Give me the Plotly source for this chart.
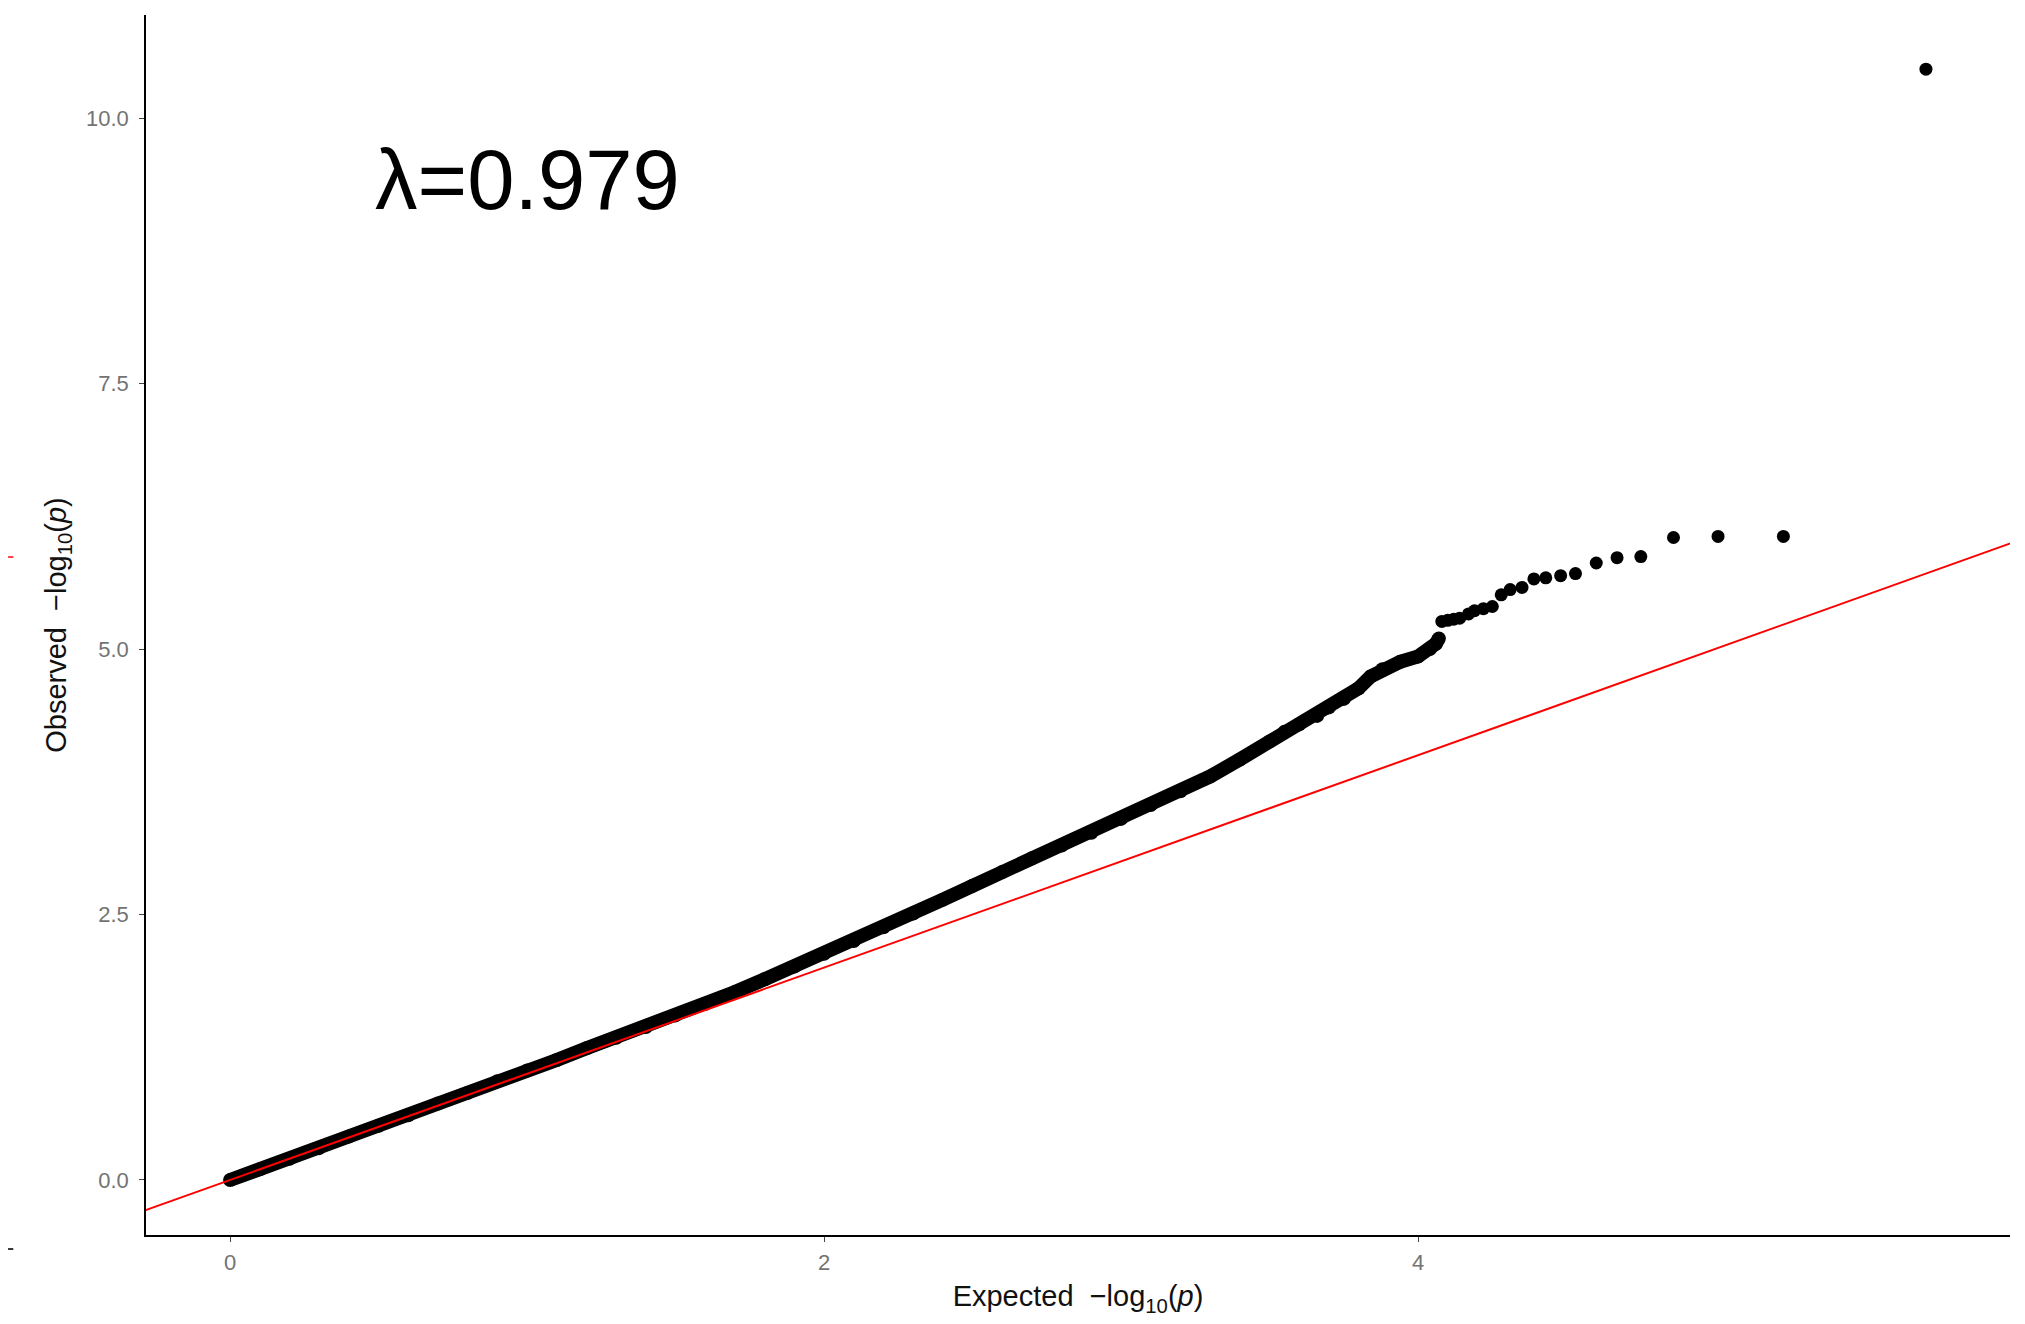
import plotly.graph_objects as go

# ---- data ----
# dense band of points (expected, observed  -log10 p)
expected_band = [0.00, 0.10, 0.20, 0.30, 0.40, 0.50, 0.60, 0.70, 0.80, 0.90,
                 1.00, 1.10, 1.20, 1.30, 1.40, 1.50, 1.60, 1.70, 1.80, 1.90,
                 2.00, 2.10, 2.20, 2.30, 2.40, 2.50, 2.60, 2.70, 2.80, 2.90,
                 3.00, 3.10, 3.20, 3.30, 3.40, 3.50, 3.55, 3.60, 3.66, 3.70,
                 3.75, 3.80, 3.84, 3.88, 3.94, 4.00, 4.04, 4.06, 4.07]
observed_band = [0.00, 0.10, 0.20, 0.30, 0.41, 0.51, 0.61, 0.72, 0.82, 0.93,
                 1.03, 1.13, 1.24, 1.34, 1.44, 1.55, 1.66, 1.77, 1.89, 2.01,
                 2.13, 2.25, 2.38, 2.51, 2.64, 2.77, 2.90, 3.03, 3.15, 3.27,
                 3.40, 3.53, 3.66, 3.80, 3.96, 4.13, 4.22, 4.29, 4.37, 4.45,
                 4.53, 4.63, 4.74, 4.81, 4.88, 4.93, 5.00, 5.05, 5.10]

# sparse upper tail points
expected_tail = [4.08, 4.10, 4.12, 4.14, 4.17, 4.19, 4.22, 4.25, 4.28, 4.31,
                 4.35, 4.39, 4.43, 4.48, 4.53, 4.60, 4.67, 4.75, 4.86, 5.01,
                 5.23, 5.71]
observed_tail = [5.26, 5.27, 5.28, 5.29, 5.33, 5.36, 5.38, 5.40, 5.51, 5.56,
                 5.58, 5.66, 5.67, 5.69, 5.71, 5.81, 5.86, 5.87, 6.05, 6.06,
                 6.06, 10.46]

# reference line y = x
ref_line = [-1.0, 7.0]

x_ticks = [0, 2, 4]
y_ticks = [0.0, 2.5, 5.0, 7.5, 10.0]
lambda_label = "λ=0.979"

FONT = "Liberation Sans, Arial, Helvetica, sans-serif"

fig = go.Figure()
fig.add_trace(go.Scatter(
    x=expected_band, y=observed_band, mode="lines+markers",
    line=dict(color="black", width=14),
    marker=dict(color="black", size=14, line=dict(width=0)),
    showlegend=False, hoverinfo="x+y"))
fig.add_trace(go.Scatter(
    x=expected_tail, y=observed_tail, mode="markers",
    marker=dict(color="black", size=13, line=dict(width=0)),
    showlegend=False, hoverinfo="x+y"))
fig.add_trace(go.Scatter(
    x=ref_line, y=ref_line, mode="lines",
    line=dict(color="#FF0000", width=2),
    showlegend=False, hoverinfo="skip"))

fig.add_annotation(
    x=1.0, y=9.42, xref="x", yref="y", text=lambda_label, showarrow=False,
    xanchor="center", yanchor="middle",
    font=dict(family=FONT, size=85, color="black"))

# small stray marks at the left edge of the reference image
fig.add_shape(type="line", xref="paper", yref="paper",
              x0=-0.0740, x1=-0.0712, y0=0.5557, y1=0.5557,
              line=dict(color="#FF4040", width=2))
fig.add_shape(type="line", xref="paper", yref="paper",
              x0=-0.0740, x1=-0.0712, y0=-0.0115, y1=-0.0115,
              line=dict(color="#333333", width=2))

fig.update_layout(
    width=2017, height=1316, autosize=False,
    margin=dict(l=138, r=15, t=7, b=89),
    paper_bgcolor="white", plot_bgcolor="white",
    font=dict(family=FONT, color="black"),
    showlegend=False,
)
fig.update_xaxes(
    range=[-0.283, 5.993], tickmode="array", tickvals=x_ticks,
    ticks="outside", ticklen=5, tickwidth=1, tickcolor="#444444",
    showline=True, linecolor="black", linewidth=1.5, mirror=False,
    showgrid=False, zeroline=False, ticklabelstandoff=2,
    tickfont=dict(family=FONT, size=22, color="#737373"),
    title=dict(text="Expected  −log<sub>10</sub>(<i>p</i>)",
               font=dict(family=FONT, size=29, color="#111111"), standoff=12),
    automargin=False)
fig.update_yaxes(
    range=[-0.518, 10.97], tickmode="array", tickvals=y_ticks, tickformat=".1f",
    ticks="outside", ticklen=5, tickwidth=1, tickcolor="#444444",
    showline=True, linecolor="black", linewidth=1.5, mirror=False,
    showgrid=False, zeroline=False, ticklabelstandoff=6,
    tickfont=dict(family=FONT, size=22, color="#737373"),
    title=dict(text="Observed  −log<sub>10</sub>(<i>p</i>)",
               font=dict(family=FONT, size=29, color="#111111"), standoff=11),
    automargin=False)

fig.write_html("out.html")
